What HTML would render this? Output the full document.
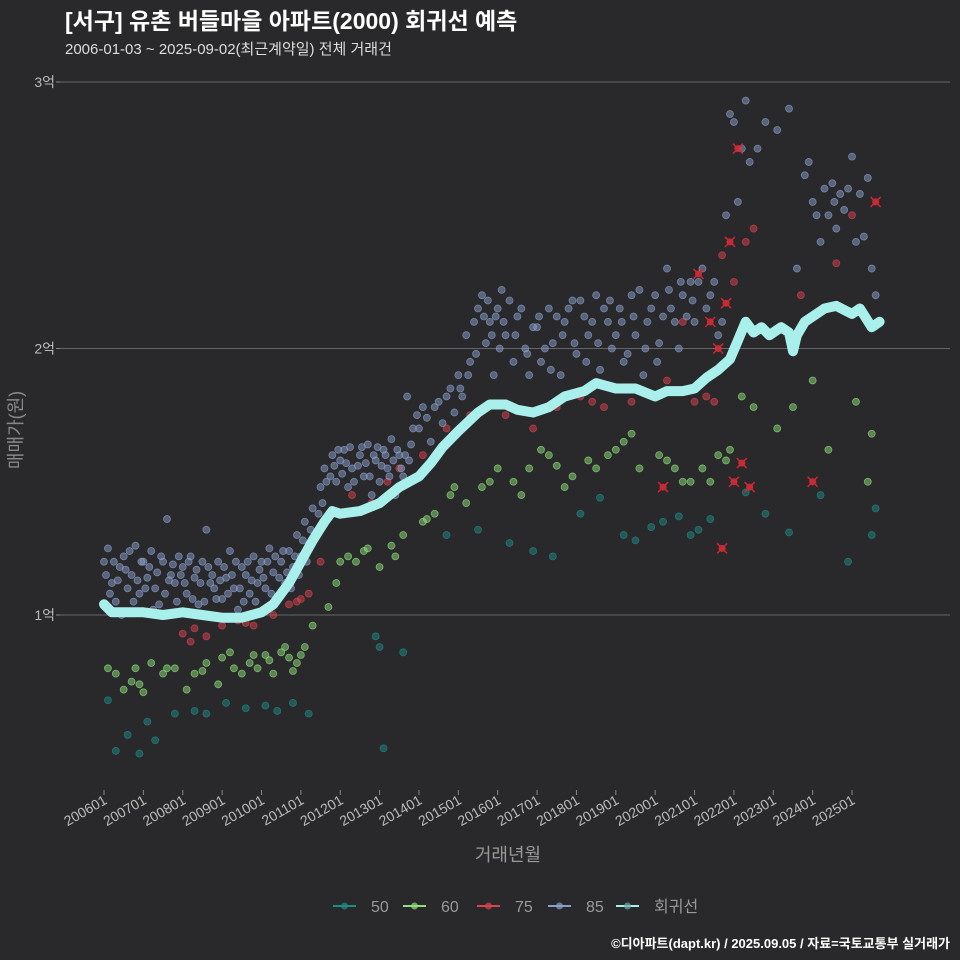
<!DOCTYPE html>
<html><head><meta charset="utf-8"><style>
body{margin:0;background:#29292b;}
svg{display:block;font-family:"Liberation Sans","Noto Sans CJK KR",sans-serif;}
</style></head><body>
<svg id="c" width="960" height="960" viewBox="0 0 960 960">
<rect width="960" height="960" fill="#29292b"/>
<text x="65" y="29" font-size="23" font-weight="bold" fill="#ffffff">[서구] 유촌 버들마을 아파트(2000) 회귀선 예측</text>
<text x="65" y="54" font-size="15" fill="#dddddd">2006-01-03 ~ 2025-09-02(최근계약일) 전체 거래건</text>
<g id="grid"></g>
<g id="pts"></g>
<g id="reg"></g>
<g id="xax"></g>
<text x="508" y="861" font-size="18" fill="#999" text-anchor="middle">거래년월</text>
<text transform="translate(22,430) rotate(-90)" font-size="18" fill="#888" text-anchor="middle">매매가(원)</text>
<g id="legend"></g>
<text x="950" y="948" font-size="13" font-weight="bold" fill="#ffffff" text-anchor="end">©디아파트(dapt.kr) / 2025.09.05 / 자료=국토교통부 실거래가</text>
</svg>
<script>
const yTicks=[1,2,3];
const yTickLabels=["1억","2억","3억"];
const xTickYears=[2006,2007,2008,2009,2010,2011,2012,2013,2014,2015,2016,2017,2018,2019,2020,2021,2022,2023,2024,2025];
const xTickLabels=["200601","200701","200801","200901","201001","201101","201201","201301","201401","201501","201601","201701","201801","201901","202001","202101","202201","202301","202401","202501"];
const seriesNames=["50","60","75","85","회귀선"];
const seriesColors=["#1f8a86","#8ee07a","#d9434f","#8aa0cc","#a9efec"];
const pts50=[[2006.1,0.68],[2006.3,0.49],[2006.6,0.55],[2006.9,0.48],[2007.1,0.6],[2007.3,0.53],[2007.8,0.63],[2008.3,0.64],[2008.6,0.63],[2009.1,0.67],[2009.6,0.65],[2010.1,0.66],[2010.4,0.64],[2010.8,0.67],[2011.2,0.63],[2012.9,0.92],[2013.0,0.88],[2013.1,0.5],[2013.6,0.86],[2014.7,1.3],[2015.5,1.32],[2016.3,1.27],[2016.9,1.24],[2017.4,1.22],[2018.1,1.38],[2018.6,1.44],[2019.2,1.3],[2019.5,1.28],[2019.9,1.33],[2020.2,1.35],[2020.6,1.37],[2020.9,1.3],[2021.1,1.32],[2021.4,1.36],[2022.3,1.46],[2022.8,1.38],[2023.4,1.31],[2024.2,1.45],[2024.9,1.2],[2025.5,1.3],[2025.6,1.4]];
const pts60=[[2006.1,0.8],[2006.3,0.78],[2006.5,0.72],[2006.8,0.8],[2006.9,0.74],[2007.2,0.82],[2007.5,0.78],[2007.8,0.8],[2008.1,0.72],[2008.3,0.78],[2008.6,0.82],[2008.9,0.74],[2009.0,0.84],[2009.2,0.86],[2009.5,0.78],[2009.7,0.82],[2009.9,0.8],[2010.1,0.85],[2010.3,0.78],[2010.5,0.86],[2010.7,0.84],[2010.9,0.82],[2011.1,0.88],[2011.3,0.96],[2011.7,1.03],[2011.9,1.12],[2012.2,1.22],[2012.4,1.2],[2012.7,1.25],[2013.0,1.18],[2013.3,1.26],[2013.6,1.3],[2014.1,1.35],[2014.4,1.38],[2014.8,1.45],[2015.2,1.42],[2015.6,1.48],[2016.0,1.55],[2016.4,1.5],[2016.8,1.55],[2017.1,1.62],[2017.5,1.56],[2017.9,1.52],[2018.3,1.58],[2018.8,1.6],[2019.2,1.65],[2019.6,1.55],[2020.1,1.6],[2020.5,1.55],[2020.9,1.5],[2021.2,1.55],[2021.6,1.6],[2021.9,1.62],[2022.2,1.82],[2022.5,1.78],[2023.1,1.7],[2023.5,1.78],[2024.0,1.88],[2024.4,1.62],[2025.1,1.8],[2025.4,1.5],[2025.5,1.68],[2006.7,0.75],[2007.0,0.71],[2007.6,0.8],[2008.5,0.79],[2009.3,0.8],[2009.8,0.85],[2010.2,0.83],[2010.6,0.88],[2010.8,0.79],[2011.0,0.85],[2012.0,1.2],[2012.6,1.24],[2013.4,1.22],[2014.2,1.36],[2014.9,1.48],[2015.8,1.5],[2016.6,1.45],[2017.3,1.6],[2017.7,1.48],[2018.5,1.55],[2019.0,1.62],[2019.4,1.68],[2020.3,1.58],[2020.7,1.5],[2021.4,1.5],[2021.8,1.58]];
const pts75=[[2008.0,0.93],[2008.3,0.95],[2008.6,0.92],[2009.0,0.96],[2009.4,0.98],[2009.8,0.96],[2010.3,1.0],[2010.7,1.04],[2011.0,1.06],[2011.5,1.2],[2012.3,1.45],[2012.8,1.42],[2013.5,1.55],[2014.1,1.6],[2014.7,1.7],[2015.3,1.75],[2016.2,1.75],[2016.9,1.7],[2017.5,1.78],[2018.1,1.82],[2018.7,1.78],[2019.4,1.8],[2020.3,1.88],[2020.7,2.1],[2021.0,1.8],[2021.3,1.82],[2021.7,2.35],[2022.0,2.25],[2022.3,2.4],[2022.5,2.45],[2023.7,2.2],[2024.6,2.32],[2025.0,2.5],[2008.2,0.9],[2008.8,0.99],[2009.6,0.97],[2010.9,1.05],[2011.2,1.08],[2013.2,1.5],[2018.4,1.8],[2021.5,1.8]];
const pts85=[[2006.0,1.2],[2006.1,1.25],[2006.2,1.12],[2006.3,1.05],[2006.4,1.18],[2006.5,1.22],[2006.6,1.1],[2006.7,1.15],[2006.8,1.26],[2006.9,1.08],[2007.0,1.2],[2007.1,1.14],[2007.2,1.24],[2007.3,1.1],[2007.4,1.04],[2007.5,1.2],[2007.6,1.36],[2007.7,1.15],[2007.8,1.12],[2007.9,1.22],[2008.0,1.18],[2008.1,1.08],[2008.2,1.22],[2008.3,1.14],[2008.4,1.04],[2008.5,1.2],[2008.6,1.32],[2008.7,1.12],[2008.8,1.1],[2008.9,1.2],[2009.0,1.06],[2009.1,1.14],[2009.2,1.24],[2009.3,1.1],[2009.4,1.02],[2009.5,1.18],[2009.6,1.15],[2009.7,1.08],[2009.8,1.22],[2009.9,1.12],[2010.0,1.2],[2010.1,1.1],[2010.2,1.25],[2010.3,1.16],[2010.4,1.06],[2010.5,1.2],[2010.6,1.12],[2010.7,1.24],[2010.8,1.18],[2010.9,1.3],[2011.0,1.22],[2011.1,1.35],[2011.2,1.26],[2011.3,1.4],[2011.5,1.48],[2011.6,1.55],[2011.8,1.6],[2011.9,1.5],[2012.0,1.58],[2012.1,1.62],[2012.2,1.48],[2012.3,1.55],[2012.5,1.6],[2012.6,1.52],[2012.7,1.64],[2012.8,1.45],[2012.9,1.58],[2013.0,1.5],[2013.1,1.62],[2013.2,1.55],[2013.3,1.66],[2013.4,1.45],[2013.5,1.6],[2013.6,1.52],[2013.7,1.82],[2013.8,1.64],[2014.0,1.7],[2014.1,1.78],[2014.3,1.65],[2014.5,1.8],[2014.6,1.72],[2014.8,1.85],[2015.0,1.9],[2015.1,1.82],[2015.2,2.05],[2015.3,1.95],[2015.5,2.15],[2015.6,2.2],[2015.7,2.02],[2015.8,2.1],[2015.9,1.9],[2016.0,2.15],[2016.1,2.22],[2016.2,2.05],[2016.4,1.95],[2016.5,2.12],[2016.7,2.0],[2016.8,1.9],[2017.0,2.08],[2017.1,1.95],[2017.3,2.15],[2017.4,2.02],[2017.6,1.9],[2017.7,2.1],[2017.9,2.18],[2018.0,1.98],[2018.2,2.12],[2018.3,2.05],[2018.5,2.2],[2018.6,1.92],[2018.8,2.1],[2018.9,2.0],[2019.1,2.15],[2019.2,1.95],[2019.4,2.2],[2019.5,2.05],[2019.7,1.9],[2019.8,2.1],[2020.0,2.2],[2020.1,2.02],[2020.3,2.3],[2020.4,2.15],[2020.6,2.0],[2020.7,2.2],[2020.9,2.25],[2021.0,2.1],[2021.2,2.3],[2021.4,2.2],[2021.6,2.05],[2021.8,2.5],[2021.9,2.88],[2022.0,2.85],[2022.2,2.75],[2022.3,2.93],[2022.6,2.75],[2022.8,2.85],[2023.1,2.82],[2023.4,2.9],[2023.6,2.3],[2023.8,2.65],[2023.9,2.7],[2024.0,2.55],[2024.2,2.4],[2024.3,2.6],[2024.4,2.5],[2024.5,2.62],[2024.6,2.45],[2024.7,2.58],[2024.8,2.52],[2024.9,2.6],[2025.0,2.72],[2025.1,2.4],[2025.3,2.42],[2025.4,2.64],[2025.5,2.3],[2025.6,2.2],
[2006.05,1.15],[2006.15,1.08],[2006.25,1.2],[2006.35,1.13],[2006.45,1.0],[2006.55,1.17],[2006.65,1.24],[2006.75,1.05],[2006.85,1.13],[2006.95,1.2],[2007.05,1.1],[2007.15,1.18],[2007.25,1.02],[2007.35,1.16],[2007.45,1.22],[2007.55,1.08],[2007.65,1.13],[2007.75,1.19],[2007.85,1.05],[2007.95,1.15],[2008.05,1.12],[2008.15,1.2],[2008.25,1.06],[2008.35,1.17],[2008.45,1.12],[2008.55,1.05],[2008.65,1.18],[2008.75,1.15],[2008.85,1.06],[2008.95,1.13],[2009.05,1.18],[2009.15,1.08],[2009.25,1.15],[2009.35,1.2],[2009.45,1.1],[2009.55,1.05],[2009.65,1.2],[2009.75,1.13],[2009.85,1.05],[2009.95,1.17],[2010.05,1.14],[2010.15,1.2],[2010.25,1.08],[2010.35,1.22],[2010.45,1.14],[2010.55,1.24],[2010.65,1.16],[2010.75,1.1],[2010.85,1.22],[2010.95,1.15],[2011.05,1.28],[2011.15,1.2],[2011.25,1.32],[2011.35,1.3],[2011.45,1.38],[2011.55,1.42],[2011.65,1.5],[2011.75,1.52],[2011.85,1.56],[2011.95,1.62],[2012.05,1.53],[2012.15,1.57],[2012.25,1.63],[2012.35,1.5],[2012.45,1.56],[2012.55,1.63],[2012.65,1.57],[2012.75,1.52],[2012.85,1.6],[2012.95,1.63],[2013.05,1.56],[2013.15,1.6],[2013.25,1.52],[2013.35,1.58],[2013.45,1.62],[2013.55,1.55],[2013.65,1.6],[2013.75,1.58],[2013.85,1.7],[2013.95,1.75],[2014.2,1.74],[2014.4,1.78],[2014.7,1.82],[2014.9,1.76],[2015.05,1.85],[2015.25,1.9],[2015.4,2.1],[2015.45,1.98],[2015.65,2.12],[2015.75,2.18],[2015.85,2.05],[2015.95,2.12],[2016.05,2.0],[2016.15,2.1],[2016.3,2.18],[2016.45,2.05],[2016.6,2.15],[2016.75,1.98],[2016.9,2.08],[2017.05,2.12],[2017.2,2.0],[2017.35,1.92],[2017.5,2.12],[2017.65,2.05],[2017.8,2.15],[2017.95,2.02],[2018.1,2.18],[2018.25,1.95],[2018.4,2.1],[2018.55,2.02],[2018.7,2.15],[2018.85,2.18],[2019.0,2.05],[2019.15,2.1],[2019.3,1.98],[2019.45,2.12],[2019.6,2.22],[2019.75,2.0],[2019.9,2.15],[2020.05,1.95],[2020.2,2.12],[2020.35,2.22],[2020.5,2.1],[2020.65,2.25],[2020.8,2.12],[2020.95,2.18],[2021.1,2.25],[2021.3,2.15],[2021.5,2.25],[2021.7,2.1],[2022.1,2.55],[2022.4,2.7],[2024.1,2.5],[2024.55,2.55],[2025.2,2.58]];
const ptsCancel=[[2021.1,2.28],[2021.4,2.1],[2021.6,2.0],[2021.8,2.17],[2021.9,2.4],[2022.1,2.75],[2020.2,1.48],[2021.7,1.25],[2022.0,1.5],[2022.2,1.57],[2022.4,1.48],[2024.0,1.5],[2025.6,2.55]];
const regYears=[2006.0,2006.2,2006.6,2007,2007.5,2008,2008.5,2009,2009.5,2010,2010.3,2010.7,2011,2011.3,2011.6,2011.8,2012,2012.5,2013,2013.5,2014,2014.3,2014.6,2015,2015.5,2015.8,2016.2,2016.5,2016.9,2017.3,2017.7,2018.2,2018.5,2019,2019.5,2020,2020.3,2020.7,2021,2021.3,2021.6,2021.9,2022.1,2022.3,2022.5,2022.7,2022.9,2023.2,2023.4,2023.5,2023.6,2023.8,2024,2024.3,2024.6,2025,2025.2,2025.5,2025.7];
const regValues=[1.04,1.01,1.01,1.01,1.0,1.01,1.0,0.99,0.99,1.01,1.04,1.12,1.2,1.28,1.35,1.39,1.38,1.39,1.42,1.48,1.52,1.57,1.63,1.69,1.76,1.79,1.79,1.77,1.76,1.78,1.82,1.84,1.87,1.85,1.85,1.82,1.84,1.84,1.85,1.89,1.92,1.96,2.03,2.1,2.06,2.08,2.05,2.08,2.06,1.99,2.05,2.1,2.12,2.15,2.16,2.13,2.15,2.08,2.1];

const NS="http://www.w3.org/2000/svg";
const X=t=>104+(t-2006)*39.37;
const Y=v=>615-(v-1)*266.5;
function mk(tag,attrs,parent){const e=document.createElementNS(NS,tag);for(const k in attrs)e.setAttribute(k,attrs[k]);parent.appendChild(e);return e;}
const grid=document.getElementById('grid');
yTicks.forEach((v,i)=>{
  const l=mk('line',{x1:60,x2:950,y1:Y(v),y2:Y(v),stroke:'#666','stroke-width':1},grid);
  
  
  const tk=mk('line',{x1:56,x2:60,y1:Y(v),y2:Y(v),stroke:'#888'},grid);
  
  
  const t=mk('text',{x:55,y:Y(v)+5,'font-size':14,fill:'#bbb','text-anchor':'end'},grid);
  t.textContent=yTickLabels[i];
  
  
});
const xax=document.getElementById('xax');
xTickYears.forEach((yr,i)=>{
  const x=X(yr);
  const tk=mk('line',{x1:x,x2:x,y1:790,y2:795,stroke:'#888'},xax);
  
  
  const t=mk('text',{transform:`translate(${x+4},${803}) rotate(-30)`,'font-size':14,fill:'#bbb','text-anchor':'end'},xax);
  t.textContent=xTickLabels[i];
  
  
});
const pg=document.getElementById('pts');
[[pts50,0],[pts60,1],[pts75,2],[pts85,3]].forEach(([arr,si])=>{
  arr.forEach(p=>{
    const c=mk('circle',{cx:X(p[0]),cy:Y(p[1]),r:3.5,fill:seriesColors[si],'fill-opacity':0.5,stroke:seriesColors[si],'stroke-opacity':0.7,'stroke-width':0.8},pg);
    
    
  });
});
ptsCancel.forEach(p=>{
  const x=X(p[0]),y=Y(p[1]);
  const g=mk('g',{},pg);
  
  
  mk('circle',{cx:x,cy:y,r:3.5,fill:'#d9434f','fill-opacity':0.7},g);
  mk('path',{d:`M${x-5},${y-5}L${x+5},${y+5}M${x-5},${y+5}L${x+5},${y-5}`,stroke:'#e0202a','stroke-width':1.5},g);
});
const reg=document.getElementById('reg');
const d=regYears.map((t,i)=>(i?'L':'M')+X(t).toFixed(1)+','+Y(regValues[i]).toFixed(1)).join('');
const rl=mk('path',{d:d,fill:'none',stroke:'#a9efec','stroke-width':10,'stroke-linejoin':'round','stroke-linecap':'round'},reg);


const lg=document.getElementById('legend');
const lx=[333,403,477,548,616];
seriesNames.forEach((n,i)=>{
  const g=mk('g',{},lg);
  
  
  mk('line',{x1:lx[i],x2:lx[i]+23,y1:906,y2:906,stroke:seriesColors[i],'stroke-width':2},g);
  mk('circle',{cx:lx[i]+11.5,cy:906,r:3.5,fill:i==4?'#6aa9a8':seriesColors[i],'fill-opacity':0.7},g);
  const t=mk('text',{x:lx[i]+38,y:912,'font-size':16,fill:'#999'},g);
  t.textContent=n;
});
</script>
</body></html>
